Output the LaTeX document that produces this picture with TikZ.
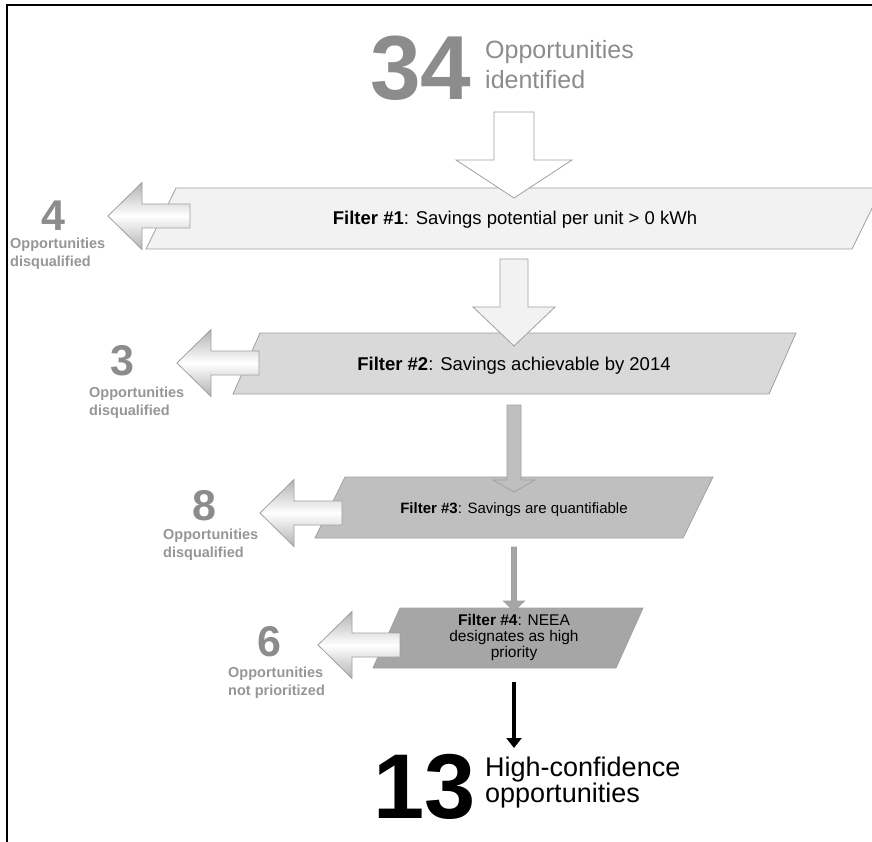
\documentclass[tikz,border=0pt]{standalone}
\usepackage{fontspec}
\setmainfont{Liberation Sans}
\usepackage{tikz}
\usetikzlibrary{arrows.meta,positioning,calc}
\definecolor{fltone}{HTML}{F2F2F2}
\definecolor{flttwo}{HTML}{D9D9D9}
\definecolor{fltthree}{HTML}{BFBFBF}
\definecolor{fltfour}{HTML}{A6A6A6}
\definecolor{edgegray}{HTML}{A0A0A0}
\definecolor{countgray}{HTML}{8C8C8C}
\definecolor{notegray}{HTML}{969696}
\newcommand{\fsz}[2]{\fontsize{#1}{#2}\selectfont}

\begin{document}
\begin{tikzpicture}[x=1pt, y=-1pt,
  filter/.style={draw=edgegray, line width=0.8pt},
  ftext/.style={inner sep=0pt, align=center, font=\fsz{18.5}{21}},
  drop/.style={draw=edgegray, line width=0.8pt},
  reject/.style={draw=edgegray, line width=0.8pt, top color=gray!60, bottom color=gray!60, middle color=white},
  count/.style={inner sep=0pt, text=countgray, font=\fsz{43}{43}\bfseries},
  note/.style={inner sep=0pt, anchor=north west, align=left, text=notegray, font=\fsz{14.5}{18}\bfseries},
  final/.style={line width=4.5pt, -{Triangle[length=10pt,width=15pt]}}]
\useasboundingbox (0,0) rectangle (872,842);
\clip (0,0) rectangle (872,842);
\draw[line width=2.5pt] (7,842) -- (7,5) -- (872,5);

% filters
\path[filter, fill=fltone] (146,249) -- (176,188) -- (882,188) -- (852,249) -- cycle;
\path[filter, fill=flttwo] (233,394) -- (260,333) -- (796,333) -- (769,394) -- cycle;
\path[filter, fill=fltthree] (315,538) -- (345,477) -- (713,477) -- (683,538) -- cycle;
\path[filter, fill=fltfour] (373,668) -- (400,608) -- (643,608) -- (616,668) -- cycle;

% block arrows down
\foreach \sw/\hw/\ya/\yb/\yc/\col in {20/58/112/160/198/white, 14/41/259/307/346/fltone,
    7/21/405/480/492/fltthree, 2.5/10.5/547/601/611/fltfour}
  \draw[drop, fill=\col] (514-\sw,\ya) -- (514+\sw,\ya) -- (514+\sw,\yb) -- (514+\hw,\yb)
    -- (514,\yc) -- (514-\hw,\yb) -- (514-\sw,\yb) -- cycle;

% block arrows left
\foreach \tx/\ty in {108/216, 177/363, 260/513, 318/645}
  \path[reject] (\tx,\ty) -- (\tx+34,\ty-33.5) -- (\tx+34,\ty-12) -- (\tx+82,\ty-12)
    -- (\tx+82,\ty+12) -- (\tx+34,\ty+12) -- (\tx+34,\ty+33.5) -- cycle;

\node[ftext, anchor=base] (f1) at (515,225) {\textbf{Filter \#1}: Savings potential per unit > 0 kWh};
\node[ftext, anchor=base] (f2) at (514,370) {\textbf{Filter \#2}: Savings achievable by 2014};
\node[ftext, anchor=base, font=\fsz{15}{18}] (f3) at (514,513) {\textbf{Filter \#3}: Savings are quantifiable};
\node[ftext, font=\fsz{15.5}{16}] (f4) at (514,637.5) {\textbf{Filter \#4}: NEEA\\designates as high\\priority};

\node[count] (c1) at (53,215.5) {4};
\node[count] (c2) at (122,361) {3};
\node[count] (c3) at (204,506) {8};
\node[count] (c4) at (269.5,641.5) {6};
\node[note] (n1) at (10,238) {Opportunities\\disqualified};
\node[note] (n2) at (89,387) {Opportunities\\disqualified};
\node[note] (n3) at (163,529) {Opportunities\\disqualified};
\node[note] (n4) at (228,667) {Opportunities\\not prioritized};

\node[inner sep=0pt, text=countgray, font=\fsz{91}{91}\bfseries, anchor=base] (total) at (421,100) {34};
\node[inner sep=0pt, text=countgray, font=\fsz{25}{30}, anchor=north west, align=left] (totaltxt) at (485,40) {Opportunities\\identified};
\node[inner sep=0pt, font=\fsz{92}{92}\bfseries, anchor=base] (kept) at (425,818) {13};
\node[inner sep=0pt, font=\fsz{27}{25}, anchor=north west, align=left] (kepttxt) at (485,757) {High-confidence\\opportunities};

\coordinate (endtop) at (514,682);
\coordinate (endtip) at (514,748);
\draw[final] (endtop) -- (endtip);
\end{tikzpicture}
\end{document}
